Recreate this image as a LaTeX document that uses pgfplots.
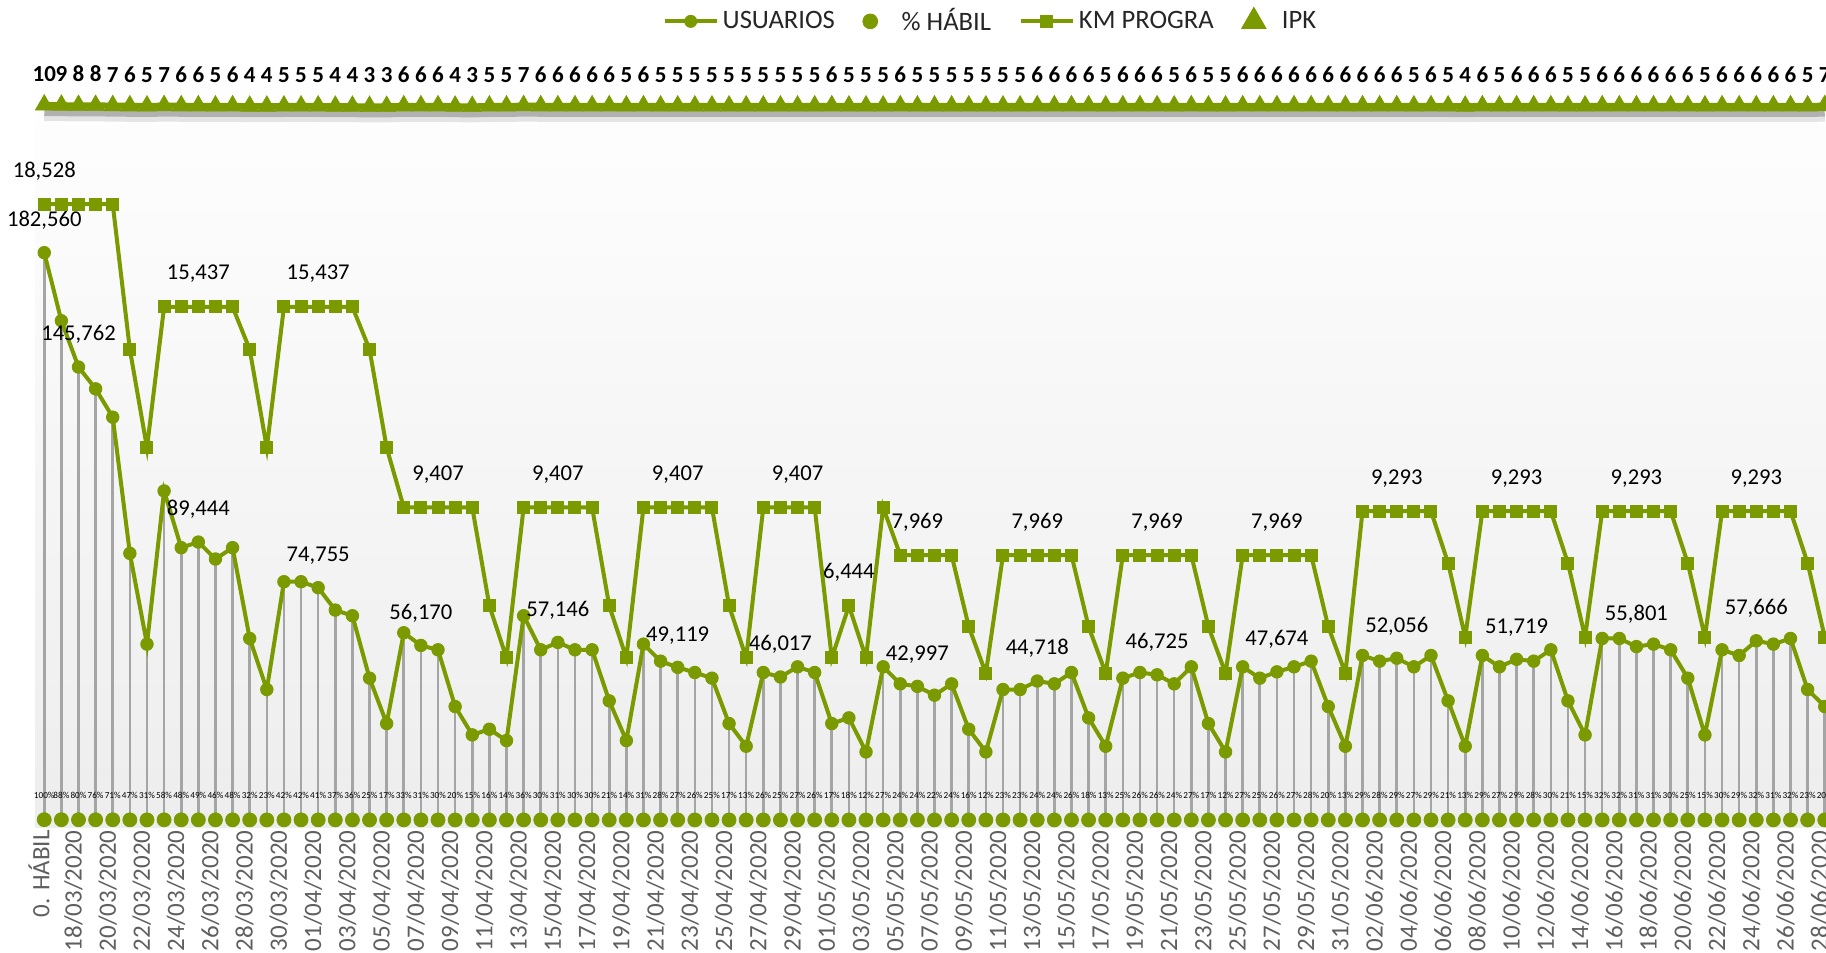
\documentclass[border=0pt]{standalone}
\usepackage{pgfplots}
\pgfplotsset{compat=1.18}
\usepackage{pgfplotstable}
\usepackage{fontspec}
\setmainfont{Carlito}
\definecolor{grn}{RGB}{122,154,0}
\definecolor{dgray}{RGB}{165,165,165}
\definecolor{lbl}{RGB}{95,95,95}

\pgfplotstableread{
x pct usu km ipk
0 100 182560 18528 10
1 88 160653 18528 9
2 80 145762 18528 8
3 76 138746 18528 8
4 71 129618 18528 7
5 47 85803 14160 6
6 31 56594 11200 5
7 58 105885 15437 7
8 48 87629 15437 6
9 49 89444 15437 6
10 46 83978 15437 5
11 48 87629 15437 6
12 32 58419 14160 4
13 23 41989 11200 4
14 42 76675 15437 5
15 42 76675 15437 5
16 41 74755 15437 5
17 37 67547 15437 4
18 36 65722 15437 4
19 25 45640 14160 3
20 17 31035 11200 3
21 33 60245 9407 6
22 31 56170 9407 6
23 30 54768 9407 6
24 20 36512 9407 4
25 15 27384 9407 3
26 16 29210 6444 5
27 14 25558 4875 5
28 36 65722 9407 7
29 30 54768 9407 6
30 31 57146 9407 6
31 30 54768 9407 6
32 30 54768 9407 6
33 21 38338 6444 6
34 14 25558 4875 5
35 31 56594 9407 6
36 28 51117 9407 5
37 27 49119 9407 5
38 26 47466 9407 5
39 25 45640 9407 5
40 17 31035 6444 5
41 13 23733 4875 5
42 26 47466 9407 5
43 25 46017 9407 5
44 27 49291 9407 5
45 26 47466 9407 5
46 17 31035 4875 6
47 18 32861 6444 5
48 12 21907 4875 5
49 27 49291 9407 5
50 24 43814 7969 6
51 24 42997 7969 5
52 22 40163 7969 5
53 24 43814 7969 5
54 16 29210 5816 5
55 12 21907 4414 5
56 23 41989 7969 5
57 23 41989 7969 5
58 24 44718 7969 6
59 24 43814 7969 6
60 26 47466 7969 6
61 18 32861 5816 6
62 13 23733 4414 5
63 25 45640 7969 6
64 26 47466 7969 6
65 26 46725 7969 6
66 24 43814 7969 5
67 27 49291 7969 6
68 17 31035 5816 5
69 12 21907 4414 5
70 27 49291 7969 6
71 25 45640 7969 6
72 26 47674 7969 6
73 27 49291 7969 6
74 28 51117 7969 6
75 20 36512 5816 6
76 13 23733 4414 6
77 29 52942 9293 6
78 28 51117 9293 6
79 29 52056 9293 6
80 27 49291 9293 5
81 29 52942 9293 6
82 21 38338 7730 5
83 13 23733 5500 4
84 29 52942 9293 6
85 27 49291 9293 5
86 29 51719 9293 6
87 28 51117 9293 6
88 30 54768 9293 6
89 21 38338 7730 5
90 15 27384 5500 5
91 32 58419 9293 6
92 32 58419 9293 6
93 31 55801 9293 6
94 31 56594 9293 6
95 30 54768 9293 6
96 25 45640 7730 6
97 15 27384 5500 5
98 30 54768 9293 6
99 29 52942 9293 6
100 32 57666 9293 6
101 31 56594 9293 6
102 32 58419 9293 6
103 23 41989 7730 5
104 20 36512 5500 7
}\data

\pgfplotstableread{
x y
0 182560
2 145762
9 89444
16 74755
22 56170
30 57146
37 49119
43 46017
51 42997
58 44718
65 46725
72 47674
79 52056
86 51719
93 55801
100 57666
}\usulab

\pgfplotstableread{
x y
0 18528
9 15437
16 15437
23 9407
30 9407
37 9407
44 9407
47 6444
51 7969
58 7969
65 7969
72 7969
79 9293
86 9293
93 9293
100 9293
}\kmlab

\begin{document}
\begin{tikzpicture}
\path[use as bounding box] (0,0) rectangle (913pt,476.5pt);
\pgfplotsset{
  base/.style={scale only axis, width=898.8pt, at={(17.85pt,62.5pt)}, anchor=south west,
    xmin=-0.5, xmax=104.5},
  biglab/.style={nodes near coords={\pgfmathprintnumber[fixed,precision=0,1000 sep={,},assume math mode=true]{\pgfplotspointmeta}},
    point meta=y,
    every node near coord/.append style={font=\fontsize{11.3}{13}\selectfont, text=black, inner sep=0pt, anchor=south}},
}
% main axis: USUARIOS and % HABIL
\begin{axis}[base, height=384pt,
  ymin=-2574, ymax=244568,
  axis line style={draw=none}, ytick=\empty, major tick length=0pt,
  xtick={-0.3,1.7,...,103.7},
  xticklabels={0. HÁBIL,18/03/2020,20/03/2020,22/03/2020,24/03/2020,26/03/2020,28/03/2020,30/03/2020,01/04/2020,03/04/2020,05/04/2020,07/04/2020,09/04/2020,11/04/2020,13/04/2020,15/04/2020,17/04/2020,19/04/2020,21/04/2020,23/04/2020,25/04/2020,27/04/2020,29/04/2020,01/05/2020,03/05/2020,05/05/2020,07/05/2020,09/05/2020,11/05/2020,13/05/2020,15/05/2020,17/05/2020,19/05/2020,21/05/2020,23/05/2020,25/05/2020,27/05/2020,29/05/2020,31/05/2020,02/06/2020,04/06/2020,06/06/2020,08/06/2020,10/06/2020,12/06/2020,14/06/2020,16/06/2020,18/06/2020,20/06/2020,22/06/2020,24/06/2020,26/06/2020,28/06/2020},
  xticklabel style={rotate=90, anchor=east, font=\fontsize{12.5}{14}\selectfont, text=lbl, inner sep=1pt},
  axis background/.style={top color=white, bottom color=black!7},
  legend columns=4,
  legend image code/.code={\draw[mark repeat=2,mark phase=2,#1] plot coordinates {(0pt,0pt) (13pt,0pt) (26pt,0pt)};},
  legend style={at={(0.5317,1.0503)}, anchor=center, draw=none, fill=none,
    font=\fontsize{13.3}{15}\selectfont, text=black!85,
    /tikz/every even column/.append style={column sep=12pt}},
]
\addlegendimage{grn, line width=2pt, mark=*, mark size=3pt, mark options={line width=0.5pt}}
\addlegendentry{USUARIOS\hspace{13pt}}
\addlegendimage{only marks, grn, mark=*, mark size=3.7pt}
\addlegendentry{\hspace{10pt}\% HÁBIL}
\addlegendimage{grn, line width=2pt, mark=square*, mark size=3pt, mark options={line width=0.5pt}}
\addlegendentry{KM PROGRA}
\addlegendimage{only marks, grn, mark=triangle*, mark size=7pt}
\addlegendentry{\hspace{6pt}IPK}

% % HABIL circles with labels
\addplot[forget plot, only marks, mark=*, mark size=3.5pt, color=grn, mark options={line width=0.4pt},
  point meta=\thisrow{pct},
  nodes near coords={\pgfmathprintnumber[fixed,precision=0,assume math mode=true]{\pgfplotspointmeta}\%},
  every node near coord/.append style={font=\fontsize{4.6}{5}\selectfont, text=black, inner sep=0pt, anchor=south, yshift=10.4pt}]
  table[x=x, y=pct] {\data};
% drop lines
\addplot[forget plot, ycomb, draw=dgray, line width=1.3pt] table[x=x, y=usu] {\data};
% USUARIOS
\addplot[forget plot, grn, line width=2pt, mark=*, mark size=3.1pt, mark options={line width=0.5pt}]
  table[x=x, y=usu] {\data};
\addplot[forget plot, draw=none, biglab, every node near coord/.append style={yshift=11.4pt}]
  table[x=x, y=y] {\usulab};
\end{axis}

% KM PROGRA axis
\begin{axis}[base, height=384pt, hide axis, ymin=-240.7, ymax=22868]
\addplot[grn, line width=2pt, mark=square*, mark size=3pt, mark options={line width=0.5pt}]
  table[x=x, y=km] {\data};
\addplot[draw=none, biglab, every node near coord/.append style={yshift=11.9pt}]
  table[x=x, y=y] {\kmlab};
\end{axis}

% IPK axis
\begin{axis}[base, at={(17.85pt,423pt)}, height=1pt, hide axis, ymin=0, ymax=10, clip=false]
\addplot[draw=black, opacity=0.10, line width=7pt, yshift=-4.5pt] table[x=x, y=ipk] {\data};
\addplot[draw=black, opacity=0.22, line width=3pt, yshift=-4pt] table[x=x, y=ipk] {\data};
\addplot[grn, line width=3pt, mark=triangle*, mark size=5.2pt, mark options={line width=0.3pt},
  point meta=y,
  nodes near coords={\pgfmathprintnumber[fixed,precision=0,assume math mode=true]{\pgfplotspointmeta}},
  every node near coord/.append style={font=\bfseries\fontsize{11.5}{13}\selectfont, text=black, inner sep=0pt, anchor=south, yshift=11.6pt}]
  table[x=x, y=ipk] {\data};
\end{axis}
\end{tikzpicture}
\end{document}
